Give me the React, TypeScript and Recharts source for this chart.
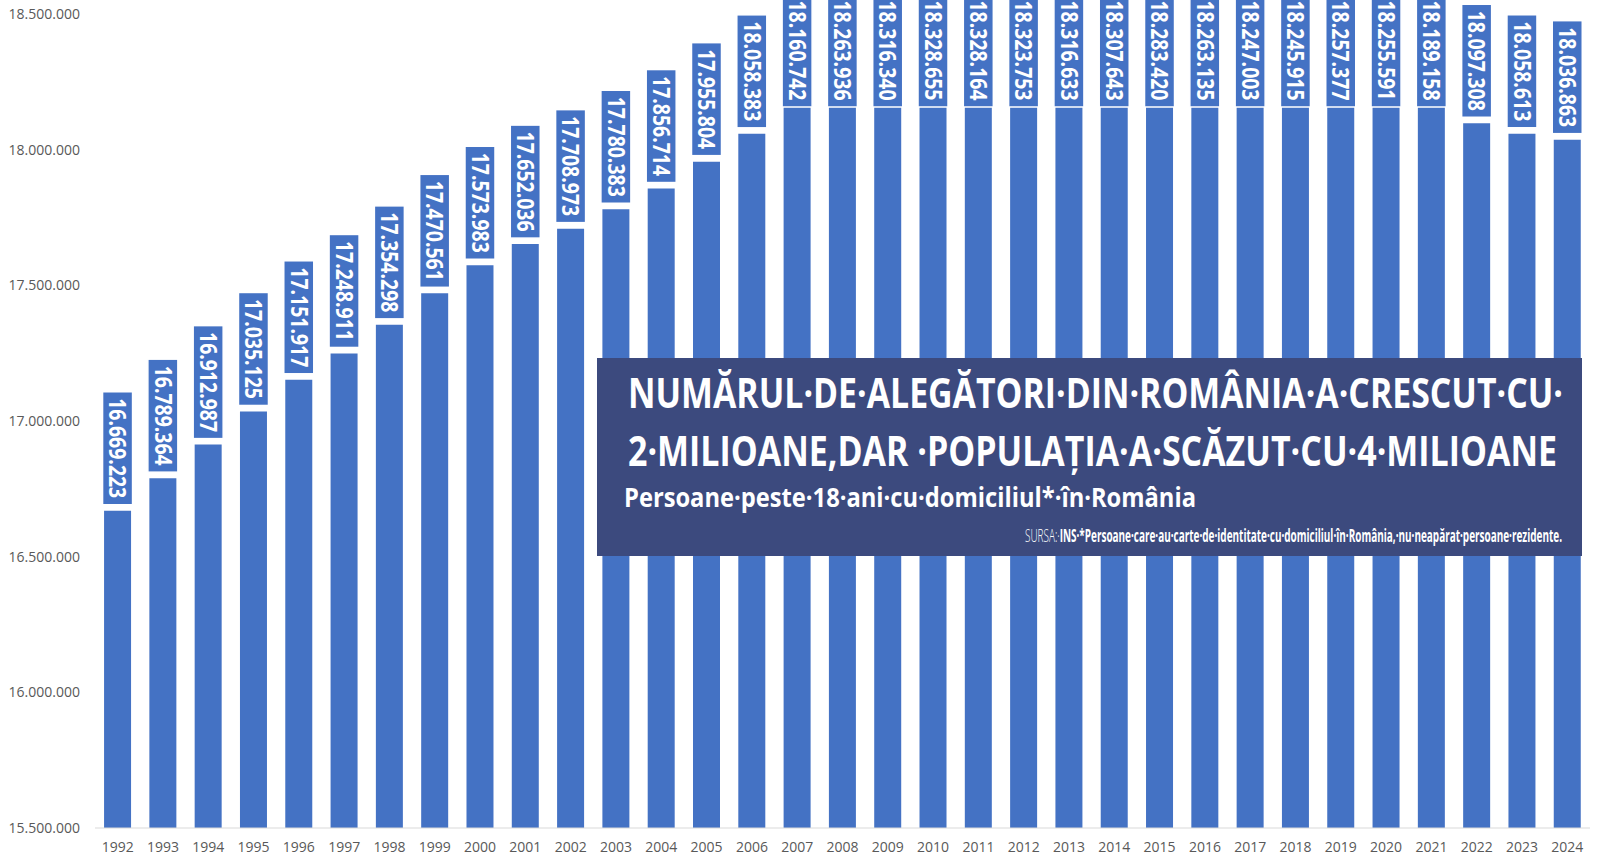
import React from 'react';
import { BarChart, Bar, XAxis, YAxis, LabelList } from 'recharts';

const years = [
  '1992', '1993', '1994', '1995', '1996', '1997', '1998', '1999', '2000', '2001', '2002',
  '2003', '2004', '2005', '2006', '2007', '2008', '2009', '2010', '2011', '2012', '2013',
  '2014', '2015', '2016', '2017', '2018', '2019', '2020', '2021', '2022', '2023', '2024',
];

const voters = [
  16669223, 16789364, 16912987, 17035125, 17151917, 17248911, 17354298, 17470561, 17573983,
  17652036, 17708973, 17780383, 17856714, 17955804, 18058383, 18160742, 18263936, 18316340,
  18328655, 18328164, 18323753, 18316633, 18307643, 18283420, 18263135, 18247003, 18245915,
  18257377, 18255591, 18189158, 18097308, 18058613, 18036863,
];

const yTicks = [15500000, 16000000, 16500000, 17000000, 17500000, 18000000, 18500000];

const data = years.map((year, i) => ({ year, value: voters[i] }));

const BAR_BLUE = '#4472C4';
const NAVY = '#3C4A7E';
const FONT = "'Open Sans', sans-serif";

// dot as thousands separator, like the original
const fmt = (v: number) => String(v).replace(/\B(?=(\d{3})+(?!\d))/g, '.');

// label box sits above the bar; pushed down so it stays on the chart when the bar is too tall
const ValueBox = (props: any) => {
  const { x, y, width, value } = props;
  const cx = Number(x) + Number(width) / 2;
  const boxH = 113;
  const boxW = 30;
  const top = Math.max(Number(y) - 6 - boxH, -6);
  const cy = top + boxH / 2;
  const fs = 23;
  return (
    <g>
      <rect
        x={cx - boxW / 2}
        y={top}
        width={boxW}
        height={boxH}
        fill={BAR_BLUE}
        stroke="#fff"
        strokeWidth={1.5}
      />
      <text
        x={cx}
        y={cy}
        dy={fs * 0.36}
        textAnchor="middle"
        fill="#fff"
        fontFamily={FONT}
        fontWeight={700}
        fontSize={fs}
        textLength={100}
        lengthAdjust="spacingAndGlyphs"
        transform={`rotate(90, ${cx}, ${cy})`}
      >
        {fmt(value)}
      </text>
    </g>
  );
};

// condensed look: smaller font stretched vertically, width fixed with textLength
const Line = ({ x, y, size, stretch, len, children }: any) => (
  <text
    x={0}
    y={0}
    transform={`translate(${x}, ${y}) scale(1, ${stretch})`}
    fontSize={size}
    textLength={len}
    lengthAdjust="spacingAndGlyphs"
  >
    {children}
  </text>
);

const TitleBox = () => (
  <svg
    width={985}
    height={198}
    style={{ position: 'absolute', left: 597, top: 358 }}
  >
    <rect x={0} y={0} width={985} height={198} fill={NAVY} />
    <g fill="#fff" fontFamily={FONT} fontWeight={700}>
      <Line x={31} y={50} size={31} stretch={1.35} len={935}>
        NUMĂRUL·DE·ALEGĂTORI·DIN·ROMÂNIA·A·CRESCUT·CU·
      </Line>
      <Line x={31} y={108} size={31} stretch={1.35} len={929}>
        2·MILIOANE,DAR ·POPULAȚIA·A·SCĂZUT·CU·4·MILIOANE
      </Line>
      <Line x={27} y={149} size={22} stretch={1.2} len={572}>
        Persoane·peste·18·ani·cu·domiciliul*·în·România
      </Line>
      <Line x={428} y={184} size={9.5} stretch={1.95} len={537}>
        <tspan fontWeight={300}>SURSA:·</tspan>
        <tspan>INS·*Persoane·care·au·carte·de·identitate·cu·domiciliul·în·România,·nu·neapărat·persoane·rezidente.</tspan>
      </Line>
    </g>
  </svg>
);

export default function App() {
  return (
    <div style={{ position: 'fixed', left: 0, top: 0, width: 1600, height: 868, background: '#fff' }}>
      <BarChart
        width={1600}
        height={868}
        data={data}
        margin={{ top: 14, right: 10, left: 0, bottom: 0 }}
        barCategoryGap="20%"
      >
        <XAxis
          dataKey="year"
          interval={0}
          height={40}
          tickSize={0}
          tickMargin={14}
          axisLine={{ stroke: '#D9D9D9' }}
          tick={{ fontSize: 14, fill: '#595959', fontFamily: FONT }}
        />
        <YAxis
          domain={[15500000, 18500000]}
          ticks={yTicks}
          width={95}
          tickSize={0}
          tickMargin={15}
          axisLine={false}
          tickLine={false}
          tickFormatter={fmt}
          tick={{ fontSize: 14, fill: '#595959', fontFamily: FONT }}
        />
        <Bar dataKey="value" fill={BAR_BLUE} isAnimationActive={false}>
          <LabelList dataKey="value" content={ValueBox} />
        </Bar>
      </BarChart>
      <TitleBox />
    </div>
  );
}
